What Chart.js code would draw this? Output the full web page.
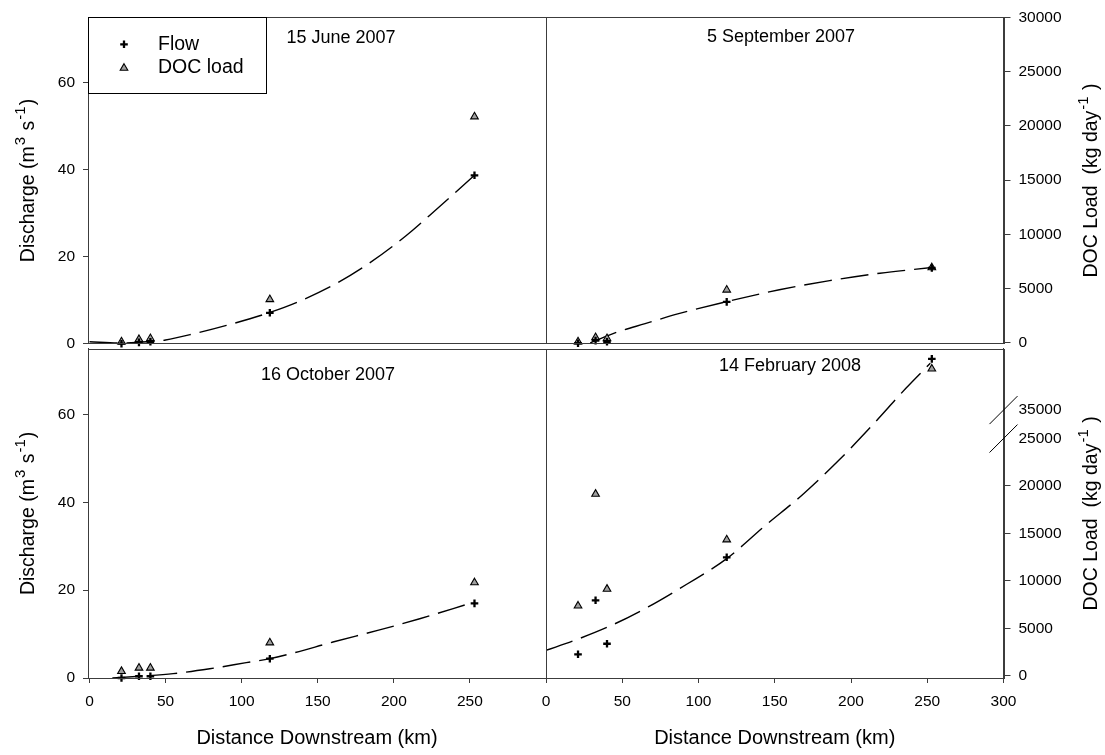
<!DOCTYPE html>
<html>
<head>
<meta charset="utf-8">
<title>Discharge and DOC load downstream</title>
<script src="https://cdn.jsdelivr.net/npm/chart.js@4.4.1/dist/chart.umd.min.js"></script>
<style>
  html, body { margin: 0; padding: 0; background: #fff; }
  #wrap { position: relative; width: 1105px; height: 755px; }
  #wrap canvas { position: absolute; left: 0; top: 0; }
</style>
</head>
<body>
<div id="wrap">
  <canvas id="june" width="1105" height="755"></canvas>
  <canvas id="sep" width="1105" height="755"></canvas>
  <canvas id="oct" width="1105" height="755"></canvas>
  <canvas id="feb" width="1105" height="755"></canvas>
</div>
<script>
// Sampling sites, km downstream
const distanceKm = [21, 32.5, 40, 118.5, 253];

// Discharge (m3 s-1) at each site
const flowJune = [0, 0.3, 0.45, 7.1, 38.7];
const flowSep = [0.1, 0.7, 0.45, 9.6, 17.4];
const flowOct = [0, 0.4, 0.4, 4.4, 17.0];
const flowFeb = [5.4, 17.7, 7.8, 27.5, 72.7];

// DOC load (kg day-1) at each site
const docJune = [100, 310, 400, 3990, 20840];
const docSep = [100, 490, 400, 4870, 6930];
const docOct = [470, 820, 820, 3480, 9820];
const docFeb = [7370, 19150, 9140, 14340, 39350];

// Dashed fitted curves
const fitJuneKm = [0, 20, 40, 50, 70, 90, 117, 137, 162, 183, 208, 229, 253];
const fitJune = [0.45, 0.15, 0.5, 0.85, 2.4, 4.2, 7.0, 9.6, 13.8, 18.3, 24.8, 31.2, 38.7];
const fitSepKm = [29, 47, 65, 87, 119, 153, 186, 219, 253];
const fitSep = [0.2, 2.7, 4.6, 6.9, 9.7, 12.4, 14.5, 16.2, 17.5];
const fitOctKm = [15, 33, 55, 79, 103, 118.5, 133, 160, 190, 217, 250];
const fitOct = [0, 0.4, 1.0, 2.1, 3.5, 4.4, 5.6, 8.2, 10.9, 13.5, 17.0];
const fitFebKm = [0, 19, 43, 67, 92, 118.5, 144, 168, 192, 214, 236, 252];
const fitFeb = [6.3, 8.6, 12.0, 16.2, 21.3, 27.2, 34.8, 41.7, 49.6, 57.6, 66.0, 71.7];

// Tick labels
const distanceTicksLeft = [0, 50, 100, 150, 200, 250];
const distanceTicksRight = [0, 50, 100, 150, 200, 250, 300];
const dischargeTicks = [0, 20, 40, 60];
const docTicksTop = [0, 5000, 10000, 15000, 20000, 25000, 30000];
const docTicksBottom = [0, 5000, 10000, 15000, 20000, 25000, 35000];
const docBreakTicks = [25000, 35000];

const AXIS_COLOR = '#3c3c3c';
const FONT = 'Liberation Sans, Arial, Helvetica, sans-serif';
Chart.defaults.font.family = FONT;
Chart.defaults.color = '#000';

/**
 * Linear scale with an axis break: values at or above breakAt are
 * shifted down by breakGap before being placed on the axis
 */
class BrokenLinearScale extends Chart.LinearScale {
    getPixelForValue(value) {
        const at = this.options.breakAt;
        const gap = this.options.breakGap || 0;
        const v = (at !== undefined && value >= at) ? value - gap : value;
        return super.getPixelForValue(v);
    }
}
BrokenLinearScale.id = 'brokenLinear';
BrokenLinearScale.defaults = Chart.LinearScale.defaults;
Chart.register(BrokenLinearScale);

const dischargeTitle = [
    { text: 'Discharge (m' }, { text: '3', sup: true }, { text: ' s' },
    { text: '-1', sup: true }, { text: ')' }
];
const docTitle = [
    { text: 'DOC Load  (kg day' }, { text: '-1', sup: true }, { text: ' )' }
];

function pairs(xs, ys) {
    return xs.map((x, i) => ({ x: x, y: ys[i] }));
}

function axisTicks(values) {
    return axis => { axis.ticks = values.map(v => ({ value: v })); };
}

// Fixes the size of a visible axis so the plot areas line up
function fixWidth(w) {
    return s => { if (s.options.display) s.width = w; };
}
function fixHeight(h) {
    return s => { if (s.options.display) s.height = h; };
}

// Draws text rotated 90deg counter-clockwise, with superscript parts
function drawRotatedRich(ctx, parts, x, y) {
    const main = `19.5px ${FONT}`;
    const sup = `15px ${FONT}`;
    ctx.save();
    ctx.translate(x, y);
    ctx.rotate(-Math.PI / 2);
    ctx.textAlign = 'left';
    ctx.textBaseline = 'alphabetic';
    ctx.fillStyle = '#000';
    let total = 0;
    const widths = parts.map(p => {
        ctx.font = p.sup ? sup : main;
        const w = ctx.measureText(p.text).width + (p.sup ? 2 : 0);
        total += w;
        return w;
    });
    let cx = -total / 2;
    parts.forEach((p, i) => {
        ctx.font = p.sup ? sup : main;
        ctx.fillText(p.text, cx + (p.sup ? 1 : 0), p.sup ? -9.5 : 0);
        cx += widths[i];
    });
    ctx.restore();
}

const panelDecor = {
    id: 'panelDecor',
    afterDraw(chart, args, o) {
        const { ctx, chartArea: a } = chart;
        ctx.save();

        // frame round the plot area
        ctx.strokeStyle = AXIS_COLOR;
        ctx.lineWidth = 1;
        ctx.strokeRect(Math.round(a.left) + 0.5, Math.round(a.top) + 0.5,
            Math.round(a.right - a.left), Math.round(a.bottom - a.top));

        // date label
        ctx.fillStyle = '#000';
        ctx.font = `18px ${FONT}`;
        ctx.textAlign = 'center';
        ctx.textBaseline = 'middle';
        ctx.fillText(o.title, a.left + o.titleX, a.top + o.titleY);

        // axis titles
        const midY = (a.top + a.bottom) / 2;
        if (o.leftTitle) drawRotatedRich(ctx, dischargeTitle, 34, midY);
        if (o.rightTitle) drawRotatedRich(ctx, docTitle, 1097, midY);

        // axis break marks
        if (o.breakMarks) {
            const s = chart.scales.y1;
            ctx.strokeStyle = '#000';
            ctx.lineWidth = 1;
            docBreakTicks.forEach(v => {
                const py = s.getPixelForValue(v);
                ctx.beginPath();
                ctx.moveTo(s.left - 14, py + 14);
                ctx.lineTo(s.left + 14, py - 14);
                ctx.stroke();
            });
        }

        // legend
        if (o.legend) {
            const lx = a.left, ly = a.top;
            ctx.fillStyle = '#fff';
            ctx.fillRect(lx, ly, 178, 76);
            ctx.strokeStyle = '#000';
            ctx.strokeRect(Math.round(lx) + 0.5, Math.round(ly) + 0.5, 178, 76);
            const rows = [27, 50.8];
            chart.data.datasets.slice(0, 2).forEach((ds, i) => {
                ctx.fillStyle = ds.backgroundColor || '#000';
                ctx.strokeStyle = ds.borderColor;
                ctx.lineWidth = ds.borderWidth;
                Chart.helpers.drawPoint(ctx, {
                    pointStyle: ds.pointStyle, radius: ds.pointRadius,
                    borderWidth: ds.borderWidth, rotation: 0
                }, lx + 36, ly + rows[i]);
                ctx.fillStyle = '#000';
                ctx.font = `19.5px ${FONT}`;
                ctx.textAlign = 'left';
                ctx.textBaseline = 'middle';
                ctx.fillText(ds.label, lx + 70, ly + rows[i]);
            });
        }
        ctx.restore();
    }
};

function buildPanel(canvasId, p) {
    const ctx = document.getElementById(canvasId).getContext('2d');
    return new Chart(ctx, {
        type: 'line',
        data: {
            datasets: [
                {
                    label: 'Flow',
                    data: pairs(distanceKm, p.flow),
                    yAxisID: 'y',
                    showLine: false,
                    pointStyle: 'cross',
                    pointRadius: 3.8,
                    borderColor: '#000',
                    borderWidth: 2.3,
                    clip: false
                },
                {
                    label: 'DOC load',
                    data: pairs(distanceKm, p.doc),
                    yAxisID: 'y1',
                    showLine: false,
                    pointStyle: 'triangle',
                    pointRadius: 4.4,
                    backgroundColor: '#a0a0a0',
                    borderColor: '#000',
                    borderWidth: 1.1,
                    clip: false
                },
                {
                    label: 'Fit',
                    data: pairs(p.fitKm, p.fit),
                    yAxisID: 'y',
                    pointRadius: 0,
                    borderColor: '#000',
                    borderWidth: 1.4,
                    borderDash: [28, 9],
                    cubicInterpolationMode: 'monotone',
                    fill: false
                }
            ]
        },
        options: {
            responsive: false,
            animation: false,
            devicePixelRatio: 1,
            events: [],
            layout: { padding: p.padding },
            scales: {
                x: {
                    type: 'linear',
                    position: 'bottom',
                    min: p.xMin,
                    max: 300,
                    display: p.showX,
                    afterBuildTicks: axisTicks(p.xTicks),
                    afterFit: fixHeight(72),
                    grid: { drawOnChartArea: false, tickLength: 5, tickColor: AXIS_COLOR },
                    border: { color: AXIS_COLOR },
                    ticks: {
                        font: { size: 15.5 }, color: '#000', padding: 9,
                        autoSkip: false, maxRotation: 0, callback: v => String(v)
                    },
                    title: {
                        display: true, text: 'Distance Downstream (km)',
                        font: { size: 20 }, color: '#000', padding: 0
                    }
                },
                y: {
                    type: 'linear',
                    position: 'left',
                    min: 0,
                    max: 75,
                    display: p.showLeft,
                    afterBuildTicks: axisTicks(dischargeTicks),
                    afterFit: fixWidth(40),
                    grid: { drawOnChartArea: false, tickLength: 5, tickColor: AXIS_COLOR },
                    border: { color: AXIS_COLOR },
                    ticks: {
                        font: { size: 15.5 }, color: '#000', padding: 8,
                        autoSkip: false, callback: v => String(v)
                    }
                },
                y1: {
                    type: p.docBreak ? 'brokenLinear' : 'linear',
                    position: 'right',
                    min: p.docMin,
                    max: p.docMax,
                    breakAt: p.docBreak ? 30000 : undefined,
                    breakGap: p.docBreak ? 7000 : 0,
                    display: p.showRight,
                    afterBuildTicks: axisTicks(p.docTicks),
                    afterFit: fixWidth(60),
                    grid: {
                        drawOnChartArea: false,
                        tickLength: 7,
                        tickColor: c => (p.docBreak && c.tick && docBreakTicks.includes(c.tick.value))
                            ? 'rgba(0,0,0,0)' : AXIS_COLOR
                    },
                    border: { color: AXIS_COLOR },
                    ticks: {
                        font: { size: 15.5 }, color: '#000', padding: 8,
                        autoSkip: false, callback: v => String(v)
                    }
                }
            },
            plugins: {
                legend: { display: false },
                tooltip: { enabled: false },
                panelDecor: {
                    title: p.title,
                    titleX: p.titleX,
                    titleY: p.titleY,
                    leftTitle: p.showLeft,
                    rightTitle: p.showRight,
                    breakMarks: !!p.docBreak,
                    legend: !!p.legend
                }
            }
        },
        plugins: [panelDecor]
    });
}

buildPanel('june', {
    flow: flowJune, doc: docJune, fitKm: fitJuneKm, fit: fitJune,
    title: '15 June 2007', titleX: 253, titleY: 21,
    showLeft: true, showRight: false, showX: false, legend: true,
    xMin: -1, xTicks: distanceTicksLeft,
    docMin: -90, docMax: 30000, docTicks: docTicksTop,
    padding: { left: 48, right: 559, top: 14.5, bottom: 411.3 }
});

buildPanel('sep', {
    flow: flowSep, doc: docSep, fitKm: fitSepKm, fit: fitSep,
    title: '5 September 2007', titleX: 235, titleY: 20,
    showLeft: false, showRight: true, showX: false,
    xMin: 0, xTicks: distanceTicksRight,
    docMin: -90, docMax: 30000, docTicks: docTicksTop,
    padding: { left: 546, right: 41.5, top: 14.5, bottom: 411.3 }
});

buildPanel('oct', {
    flow: flowOct, doc: docOct, fitKm: fitOctKm, fit: fitOct,
    title: '16 October 2007', titleX: 240, titleY: 26,
    showLeft: true, showRight: false, showX: true,
    xMin: -1, xTicks: distanceTicksLeft,
    docMin: -240, docMax: 34460, docTicks: docTicksBottom,
    padding: { left: 48, right: 559, top: 348.8, bottom: 5 }
});

buildPanel('feb', {
    flow: flowFeb, doc: docFeb, fitKm: fitFebKm, fit: fitFeb,
    title: '14 February 2008', titleX: 244, titleY: 17,
    showLeft: false, showRight: true, showX: true,
    xMin: 0, xTicks: distanceTicksRight,
    docMin: -240, docMax: 34460, docTicks: docTicksBottom, docBreak: true,
    padding: { left: 546, right: 41.5, top: 348.8, bottom: 5 }
});
</script>
</body>
</html>
